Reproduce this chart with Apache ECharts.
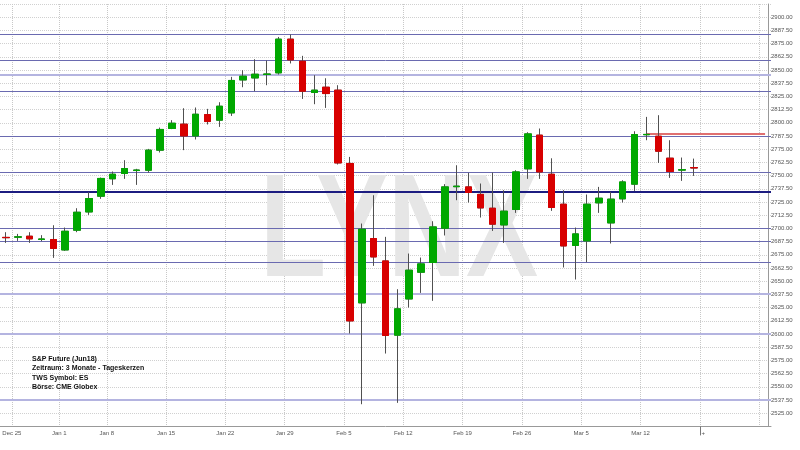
<!DOCTYPE html>
<html>
<head>
<meta charset="utf-8">
<script src="https://cdn.jsdelivr.net/npm/echarts@6/dist/echarts.min.js"></script>
<style>html,body{margin:0;padding:0;background:#fff}#c{width:800px;height:450px}</style>
</head>
<body>
<div id="c"></div>
<script>
// trading days (one candle each) + empty future slots
const dates = ['Dec 22','Dec 26','Dec 27','Dec 28','Dec 29','Jan 2','Jan 3','Jan 4','Jan 5',
 'Jan 8','Jan 9','Jan 10','Jan 11','Jan 12','Jan 15','Jan 16','Jan 17','Jan 18','Jan 19',
 'Jan 22','Jan 23','Jan 24','Jan 25','Jan 26','Jan 29','Jan 30','Jan 31','Feb 1','Feb 2',
 'Feb 5','Feb 6','Feb 7','Feb 8','Feb 9','Feb 12','Feb 13','Feb 14','Feb 15','Feb 16',
 'Feb 19','Feb 20','Feb 21','Feb 22','Feb 23','Feb 26','Feb 27','Feb 28','Mar 1','Mar 2',
 'Mar 5','Mar 6','Mar 7','Mar 8','Mar 9','Mar 12','Mar 13','Mar 14','Mar 15','Mar 16',
 'f1','f2','f3','f4','f5','f6'];
const openP  = [2691.5,2691.7,2692.6,2689.5,2689.5,2679.6,2698.3,2715.6,2730.5,2747.0,2752.0,2754.8,2755.1,2774.1,2794.6,2798.7,2787.6,2807.8,2802.5,2809.4,2840.6,2842.5,2845.8,2847.3,2879.2,2858.3,2828.7,2833.7,2830.9,2761.5,2629.5,2690.4,2669.2,2598.9,2633.2,2658.5,2667.7,2700.2,2739.5,2739.3,2732.2,2719.1,2703.3,2717.9,2756.4,2788.3,2751.3,2722.9,2683.8,2688.2,2724.2,2705.2,2728.0,2741.9,2788.7,2787.3,2766.5,2755.2,2757.6];
const closeP = [2691.2,2692.0,2690.1,2690.0,2681.0,2697.3,2715.3,2728.3,2747.3,2751.3,2756.7,2755.3,2774.1,2793.7,2799.6,2787.6,2808.1,2801.2,2815.7,2840.1,2844.1,2846.0,2846.2,2879.2,2859.6,2829.9,2830.9,2827.7,2762.0,2612.4,2699.2,2673.0,2598.6,2623.8,2660.4,2666.4,2701.4,2739.3,2740.0,2734.0,2719.4,2704.0,2716.3,2753.5,2789.5,2753.5,2719.8,2683.4,2694.8,2722.9,2728.6,2727.7,2744.0,2788.9,2789.0,2773.1,2753.9,2755.6,2757.2];
const lowP   = [2686.3,2688.2,2686.3,2687.9,2672.1,2678.7,2696.4,2712.8,2728.0,2741.2,2746.9,2741.2,2752.9,2771.9,2794.0,2774.1,2784.2,2798.4,2796.1,2806.5,2833.7,2829.9,2835.6,2845.7,2856.2,2822.6,2817.6,2814.1,2760.5,2600.5,2533.5,2664.5,2581.5,2534.8,2625.0,2638.9,2631.4,2693.3,2726.7,2724.5,2710.3,2697.6,2686.3,2714.7,2746.9,2746.9,2716.6,2663.0,2651.6,2668.0,2714.7,2685.7,2724.5,2735.5,2783.5,2762.0,2747.8,2745.0,2749.7];
const highP  = [2696.4,2694.8,2696.4,2693.6,2703.0,2700.8,2719.1,2734.3,2748.2,2753.9,2764.6,2756.4,2775.3,2795.5,2802.5,2813.8,2814.5,2813.2,2819.5,2843.5,2849.8,2860.2,2859.0,2881.3,2883.6,2863.4,2845.1,2842.2,2835.6,2767.7,2704.6,2731.4,2692.0,2642.4,2676.2,2672.4,2706.8,2741.9,2759.8,2752.6,2742.5,2752.9,2736.2,2755.1,2791.1,2794.6,2766.4,2736.2,2700.8,2732.1,2739.3,2734.6,2745.6,2792.0,2805.6,2807.2,2783.5,2767.1,2766.1];

// week labels sit on slot boundaries
const weekLabels = ['Dec 25','Jan 1','Jan 8','Jan 15','Jan 22','Jan 29','Feb 5','Feb 12','Feb 19','Feb 26','Mar 5','Mar 12','+'];
const weekIdx    = [1,5,9,14,19,24,29,34,39,44,49,54,59];
const gridIdx    = [1,5,9,14,19,24,29,34,39,44,49,54,59,64];

// drawn horizontal levels
const levelsMedium = [2883.9,2859.0,2829.9,2787.0,2752.9,2699.9,2687.9,2667.7];
const levelsLight  = [2845.7,2638.3,2600.1,2537.6];
const levelsStrong = [2734.9];
const redLevel = 2789.2, redFromIdx = 54, redToIdx = 64;

const legendLines = ['S&P Future (Jun18)','Zeitraum: 3 Monate - Tageskerzen','TWS Symbol: ES','Börse: CME Globex'];

const yTicks = {min: 2512.5, max: 2912.5, step: 12.5};

const boundaries = [];
for (let k = 0; k <= dates.length; k++) {
  const p = weekIdx.indexOf(k);
  boundaries.push(p >= 0 ? weekLabels[p] : 'b' + k);
}

const full = openP.map((o, i) => [o, closeP[i], lowP[i], highP[i]]);
const bodies = openP.map((o, i) => [o, closeP[i], Math.min(o, closeP[i]), Math.max(o, closeP[i])]);

const GREEN = '#00a800', RED = '#d80000', WICK = '#505050';

const markData = [];
levelsMedium.forEach(v => markData.push({yAxis: v, lineStyle: {color: '#6a6ab0', width: 1, type: 'solid'}}));
levelsLight.forEach(v => markData.push({yAxis: v, lineStyle: {color: '#b4b4e0', width: 2, type: 'solid'}}));
levelsStrong.forEach(v => markData.push({yAxis: v, lineStyle: {color: '#1c1c80', width: 2, type: 'solid'}}));
markData.push([{coord: [redFromIdx, redLevel], lineStyle: {color: '#e07070', width: 2, type: 'solid'}}, {coord: [redToIdx, redLevel]}]);

const chart = echarts.init(document.getElementById('c'), null, {renderer: 'canvas'});
chart.setOption({
  backgroundColor: '#ffffff',
  animation: false,
  grid: {left: 0, top: 4, width: 771, height: 422.4, containLabel: false, outerBoundsMode: 'none'},
  xAxis: [{
    type: 'category', data: dates, boundaryGap: true, position: 'bottom',
    axisLine: {show: true, lineStyle: {color: '#999', width: 1}},
    axisTick: {show: false}, axisLabel: {show: false}, splitLine: {show: false}
  }, {
    type: 'category', data: boundaries, boundaryGap: false, position: 'bottom',
    axisLine: {show: false},
    axisTick: {show: true, length: 9, interval: (i) => i === 59, lineStyle: {color: '#777'}},
    axisLabel: {
      show: true, interval: (i) => weekIdx.includes(i), fontSize: 6, color: '#555',
      fontFamily: 'Liberation Sans', margin: 4,
      formatter: (v) => v.startsWith('b') ? '' : (v === '+' ? '    +' : v)
    },
    splitLine: {show: true, interval: (i) => gridIdx.includes(i), lineStyle: {color: '#c8c8c8', type: 'dotted', width: 1}}
  }],
  yAxis: {
    type: 'value', position: 'right', offset: -3,
    min: yTicks.min, max: yTicks.max, interval: yTicks.step, scale: true,
    axisLine: {show: true, lineStyle: {color: '#999'}},
    axisTick: {show: false},
    axisLabel: {fontSize: 6, color: '#555', margin: 3, fontFamily: 'Liberation Sans',
      showMinLabel: false, showMaxLabel: false, formatter: (v) => v.toFixed(2)},
    splitLine: {show: true, lineStyle: {color: '#d0d0d0', type: 'dotted', width: 1}}
  },
  graphic: [{
    type: 'text', x: 399, y: 236, scaleX: 0.74, z: 1, silent: true,
    style: {text: 'LYNX', font: 'bold 146px "Liberation Sans"', fill: '#e6e6e6',
      textAlign: 'center', textVerticalAlign: 'middle'}
  }, {
    type: 'text', left: 32, top: 354, z: 10, silent: true,
    style: {text: legendLines.join('\n'), font: 'bold 7px "Liberation Sans"', fill: '#111', lineHeight: 9.5}
  }],
  series: [{
    type: 'candlestick', name: 'wick', xAxisIndex: 0, data: full, barWidth: 7, z: 3,
    itemStyle: {color: WICK, color0: WICK, borderColor: WICK, borderColor0: WICK, borderWidth: 1},
    markLine: {silent: true, symbol: 'none', label: {show: false}, z: 2, data: markData}
  }, {
    type: 'candlestick', name: 'body', xAxisIndex: 0, data: bodies, barWidth: 7, z: 4,
    itemStyle: {color: GREEN, color0: RED, borderColor: GREEN, borderColor0: RED, borderWidth: 1}
  }]
});
</script>
</body>
</html>
